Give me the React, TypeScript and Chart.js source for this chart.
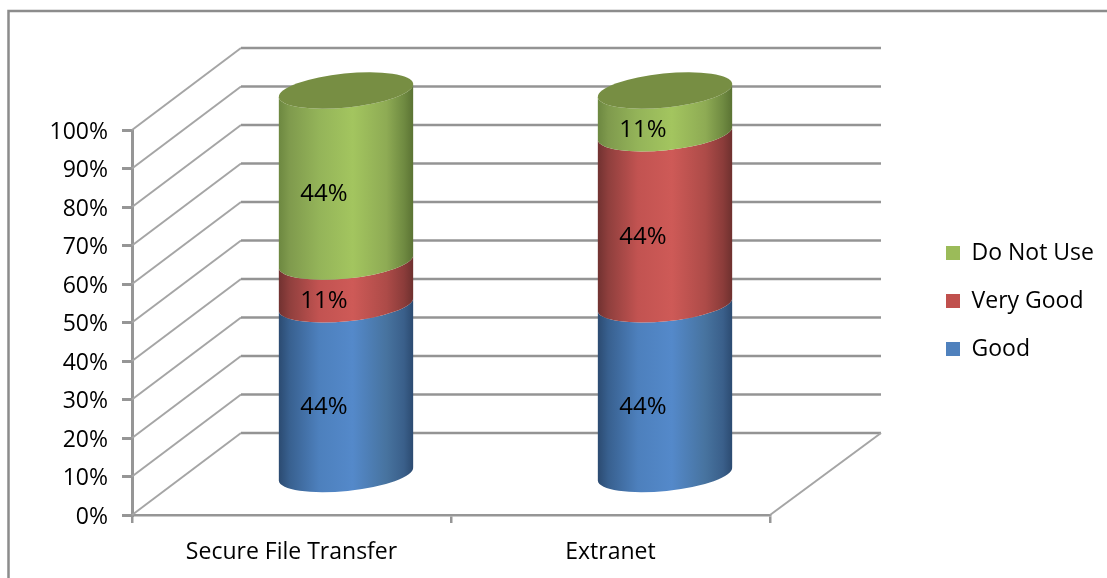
import React, { useEffect, useRef } from "react";
import { Chart, registerables } from "chart.js";

Chart.register(...registerables);

const categories = ["Secure File Transfer", "Extranet"];
const good = [44, 44];
const veryGood = [11, 44];
const doNotUse = [44, 11];
const stackTotal = 99;
const tickCount = 10;

const FONT = "Open Sans";
const FONT_SIZE = 23;
const LABEL_FONT_SIZE = 24;

// Oblique projection of the wall behind the plot, and of the bars half way into it
const DEPTH_LEFT_X = 109;
const DEPTH_RIGHT_X = 111;
const DEPTH_Y = -82;
const BAR_DX = 54.5;
const BAR_DY = -39.5;
const RADIUS_X = 67.5;
const RADIUS_Y = 17;
const TILT = -0.1;
const LABEL_DX = -22;
const LABEL_DY = 18;

const AXIS_GREY = "#969696";
const WALL_GREY = "#949494";
const DIAGONAL_GREY = "#a5a5a5";
const FRAME_GREY = "#8c8c8c";

type Shade = { base: string; stops: [number, string][] };

const shades: Shade[] = [
  {
    base: "#4f81bd",
    stops: [
      [0, "#2b4a70"], [0.08, "#38608f"], [0.3, "#4d80bd"], [0.55, "#5489ca"],
      [0.8, "#47739f"], [0.93, "#3a5f8a"], [1, "#2b4a70"],
    ],
  },
  {
    base: "#c0504d",
    stops: [
      [0, "#703130"], [0.08, "#8f3f3d"], [0.3, "#c25351"], [0.55, "#ce5a57"],
      [0.8, "#ad4b48"], [0.93, "#8b3c3a"], [1, "#6d302e"],
    ],
  },
  {
    base: "#9bbb59",
    stops: [
      [0, "#6c8740"], [0.08, "#7f9a4d"], [0.3, "#94b459"], [0.55, "#a3c55f"],
      [0.8, "#8eab54"], [0.93, "#6f8a41"], [1, "#5a7233"],
    ],
  },
];
const CAP_COLOR = "#778e43";

const frame = {
  id: "frame",
  beforeDraw(chart: any) {
    const { ctx, width, height } = chart;
    ctx.save();
    ctx.strokeStyle = FRAME_GREY;
    ctx.lineWidth = 2.5;
    ctx.beginPath();
    ctx.moveTo(8.5, height);
    ctx.lineTo(8.5, 11);
    ctx.lineTo(width, 11);
    ctx.stroke();
    ctx.restore();
  },
};

// The legend reserves the whole right margin, then sits further out inside it
const placeLegend = {
  id: "placeLegend",
  beforeLayout(chart: any) {
    const legend = chart.legend;
    const fit = legend.fit;
    legend.fit = function () {
      fit.call(this);
      this.width = 337;
    };
  },
  afterLayout(chart: any) {
    const legend = chart.legend;
    const dx = 921 - legend.left;
    const dy = -53;
    legend.left += dx;
    legend.right += dx;
    legend.top += dy;
    legend.bottom += dy;
    legend.legendHitBoxes.forEach((box: any) => {
      box.left += dx;
      box.top += dy;
    });
  },
};

const wall = {
  id: "wall",
  beforeDatasetsDraw(chart: any) {
    const { ctx, scales } = chart;
    const y = scales.y;
    const left = chart.chartArea.left;
    const right = chart.chartArea.right;
    ctx.save();
    y.ticks.forEach((tick: any) => {
      const py = y.getPixelForValue(tick.value);
      ctx.strokeStyle = DIAGONAL_GREY;
      ctx.lineWidth = 2;
      ctx.beginPath();
      ctx.moveTo(left, py);
      ctx.lineTo(left + DEPTH_LEFT_X, py + DEPTH_Y);
      ctx.stroke();
      ctx.strokeStyle = WALL_GREY;
      ctx.lineWidth = 2.5;
      ctx.beginPath();
      ctx.moveTo(left + DEPTH_LEFT_X, py + DEPTH_Y);
      ctx.lineTo(right + DEPTH_RIGHT_X, py + DEPTH_Y);
      ctx.stroke();
    });
    const floor = y.getPixelForValue(0);
    ctx.strokeStyle = DIAGONAL_GREY;
    ctx.lineWidth = 2;
    ctx.beginPath();
    ctx.moveTo(right, floor);
    ctx.lineTo(right + DEPTH_RIGHT_X, floor + DEPTH_Y);
    ctx.stroke();
    ctx.restore();
  },
};

// Each stacked bar segment is painted as a slice of a cylinder
const cylinders = {
  id: "cylinders",
  beforeDatasetDraw() {
    return false;
  },
  afterDatasetsDraw(chart: any) {
    const { ctx } = chart;
    const count = chart.data.labels.length;
    for (let i = 0; i < count; i++) {
      let topY = 0;
      let cx = 0;
      chart.data.datasets.forEach((_: any, d: number) => {
        const bar = chart.getDatasetMeta(d).data[i];
        cx = bar.x + BAR_DX;
        const yTop = bar.y + BAR_DY;
        const yBase = bar.base + BAR_DY;
        const gradient = ctx.createLinearGradient(cx - RADIUS_X, 0, cx + RADIUS_X, 0);
        shades[d].stops.forEach(([at, color]) => gradient.addColorStop(at, color));
        ctx.fillStyle = gradient;
        ctx.beginPath();
        ctx.ellipse(cx, yBase, RADIUS_X, RADIUS_Y, TILT, 0, Math.PI, false);
        ctx.ellipse(cx, yTop, RADIUS_X, RADIUS_Y, TILT, Math.PI, 0, true);
        ctx.closePath();
        ctx.fill();
        topY = yTop;
      });
      ctx.fillStyle = CAP_COLOR;
      ctx.beginPath();
      ctx.ellipse(cx, topY, RADIUS_X, RADIUS_Y, TILT, 0, Math.PI * 2);
      ctx.fill();
    }
    // Percent labels sit towards the front left of each slice
    ctx.save();
    ctx.fillStyle = "#000";
    ctx.font = `${LABEL_FONT_SIZE}px "${FONT}"`;
    ctx.textAlign = "center";
    ctx.textBaseline = "middle";
    chart.data.datasets.forEach((ds: any, d: number) => {
      chart.getDatasetMeta(d).data.forEach((bar: any, i: number) => {
        const x = bar.x + BAR_DX + LABEL_DX;
        const y = (bar.y + bar.base) / 2 + BAR_DY + LABEL_DY;
        ctx.fillText(`${ds.data[i]}%`, x, y);
      });
    });
    ctx.restore();
  },
};

export default function App() {
  const ref = useRef<HTMLCanvasElement>(null);

  useEffect(() => {
    document.body.style.margin = "0";
    const chart = new Chart(ref.current!, {
      type: "bar",
      data: {
        labels: categories,
        datasets: [
          { label: "Good", data: good, backgroundColor: shades[0].base },
          { label: "Very Good", data: veryGood, backgroundColor: shades[1].base },
          { label: "Do Not Use", data: doNotUse, backgroundColor: shades[2].base },
        ],
      },
      options: {
        responsive: false,
        animation: false,
        layout: { padding: { top: 130, left: 8, right: 0, bottom: 0 } },
        plugins: {
          legend: {
            position: "right",
            reverse: true,
            labels: {
              color: "#000",
              boxWidth: 14,
              boxHeight: 14,
              padding: 25,
              font: { family: FONT, size: FONT_SIZE },
            },
          },
          tooltip: { enabled: false },
        },
        scales: {
          x: {
            stacked: true,
            grid: {
              drawOnChartArea: false,
              color: AXIS_GREY,
              lineWidth: 2.5,
              tickLength: 8,
            },
            border: { color: AXIS_GREY, width: 2.5 },
            ticks: {
              color: "#000",
              padding: 16,
              maxRotation: 0,
              font: { family: FONT, size: FONT_SIZE },
            },
            afterFit(scale: any) {
              scale.height = 63;
            },
          },
          y: {
            stacked: true,
            min: 0,
            max: stackTotal,
            grid: {
              drawOnChartArea: false,
              color: AXIS_GREY,
              lineWidth: 3,
              tickLength: 10,
            },
            border: { color: AXIS_GREY, width: 3 },
            ticks: {
              color: "#000",
              padding: 14,
              labelOffset: 2,
              stepSize: stackTotal / tickCount,
              callback: (v: any) => `${Math.round((Number(v) / stackTotal) * 100)}%`,
              font: { family: FONT, size: FONT_SIZE },
            },
            afterFit(scale: any) {
              scale.width = 124;
            },
          },
        },
      },
      plugins: [frame, wall, cylinders, placeLegend],
    } as any);
    return () => chart.destroy();
  }, []);

  return <canvas ref={ref} width={1107} height={578} style={{ display: "block" }} />;
}
